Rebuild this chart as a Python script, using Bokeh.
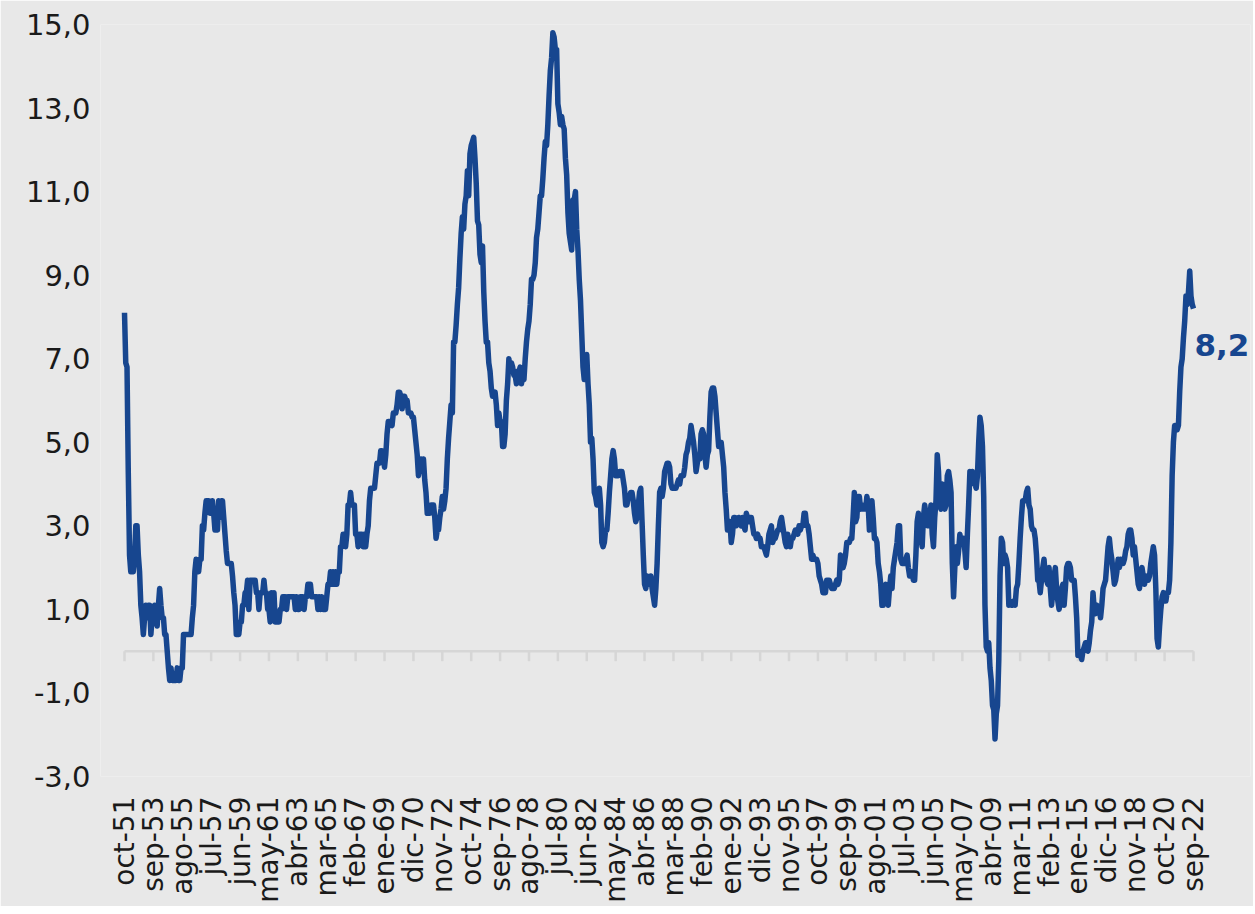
import math
from bokeh.plotting import figure
from bokeh.models import Range1d, FixedTicker, ColumnDataSource
from bokeh.core.properties import value
from bokeh.embed import file_html
from bokeh.resources import INLINE

# ---------------- data ----------------
month_names = ["ene", "feb", "mar", "abr", "may", "jun", "jul", "ago", "sep", "oct", "nov", "dic"]
start_year, start_month = 1951, 9  # oct-51 (0-based month index)

# Year-on-year inflation (%), monthly, oct-1951 .. sep-2022
v1950s = [8.1, 6.9, 6.8,
          4.3, 2.3, 1.9, 2.3, 1.9, 2.3, 3.0, 3.0, 2.3, 1.9, 1.1, 0.8,
          0.4, 0.8, 1.1, 0.8, 1.1, 1.1, 0.4, 0.8, 0.8, 1.1, 0.8, 0.6,
          1.1, 1.5, 1.1, 0.8, 0.8, 0.4, 0.4, 0.0, -0.4, -0.7, -0.4, -0.7,
          -0.7, -0.7, -0.7, -0.4, -0.7, -0.7, -0.4, -0.4, 0.4, 0.4, 0.4, 0.4,
          0.4, 0.4, 0.4, 0.8, 1.1, 1.9, 2.2, 1.9, 1.9, 2.2, 2.2, 3.0,
          2.9, 3.3, 3.6, 3.6, 3.6, 3.3, 3.3, 3.6, 3.3, 2.9, 3.3, 2.9,
          3.6, 3.2, 3.6, 3.6, 3.2, 2.8, 2.4, 2.1, 2.1, 2.1, 2.1, 1.8,
          1.4, 1.1, 0.4, 0.4, 0.4, 0.7, 0.7, 1.1, 1.1, 1.4, 1.4, 1.7]
v1960s = [1.0, 1.7, 1.7, 1.7, 1.7, 1.7, 1.4, 1.4, 1.0, 1.4, 1.4, 1.4,
          1.7, 1.4, 1.4, 1.0, 1.0, 0.7, 1.4, 1.0, 1.4, 0.7, 0.7, 0.7,
          0.7, 1.0, 1.0, 1.3, 1.3, 1.3, 1.0, 1.3, 1.3, 1.3, 1.3, 1.3,
          1.3, 1.0, 1.3, 1.0, 1.0, 1.3, 1.3, 1.3, 1.0, 1.3, 1.3, 1.6,
          1.6, 1.6, 1.3, 1.3, 1.3, 1.3, 1.3, 1.0, 1.3, 1.0, 1.3, 1.0,
          1.0, 1.0, 1.3, 1.6, 1.6, 1.9, 1.6, 1.9, 1.6, 1.9, 1.6, 1.9,
          1.9, 2.5, 2.5, 2.8, 2.8, 2.5, 2.8, 3.5, 3.5, 3.8, 3.5, 3.5,
          3.5, 2.8, 2.8, 2.5, 2.8, 2.8, 2.8, 2.5, 2.8, 2.5, 2.8, 3.0,
          3.6, 3.9, 3.9, 3.9, 3.9, 4.2, 4.5, 4.5, 4.5, 4.8, 4.8, 4.7,
          4.4, 4.7, 5.2, 5.5, 5.5, 5.5, 5.4, 5.7, 5.7, 5.7, 5.9, 6.2]
v1970s = [6.2, 6.1, 5.8, 6.1, 6.1, 6.0, 6.0, 5.7, 5.7, 5.7, 5.6, 5.6,
          5.3, 5.0, 4.7, 4.2, 4.4, 4.6, 4.4, 4.6, 4.1, 3.8, 3.3, 3.3,
          3.3, 3.5, 3.5, 3.5, 3.2, 2.7, 2.9, 2.9, 3.2, 3.4, 3.7, 3.4,
          3.6, 3.9, 4.6, 5.1, 5.5, 5.9, 5.7, 7.4, 7.4, 7.8, 8.3, 8.7,
          9.4, 10.0, 10.4, 10.1, 10.7, 10.9, 11.5, 10.9, 11.9, 12.1, 12.2, 12.3,
          11.8, 11.2, 10.3, 10.2, 9.5, 9.3, 9.7, 8.6, 7.9, 7.4, 7.4, 6.9,
          6.7, 6.3, 6.1, 6.1, 6.2, 5.9, 5.4, 5.7, 5.5, 5.5, 4.9, 4.9,
          5.2, 6.0, 6.4, 7.0, 6.7, 6.9, 6.8, 6.6, 6.6, 6.4, 6.7, 6.7,
          6.8, 6.4, 6.6, 6.5, 7.0, 7.4, 7.7, 7.9, 8.3, 8.9, 8.9, 9.0,
          9.3, 9.9, 10.1, 10.5, 10.9, 10.9, 11.3, 11.8, 12.2, 12.1, 12.6, 13.3]
v1980s = [13.9, 14.2, 14.8, 14.7, 14.4, 14.4, 13.1, 12.9, 12.6, 12.8, 12.6, 12.5,
          11.8, 11.4, 10.5, 10.0, 9.8, 9.6, 10.8, 10.8, 11.0, 10.1, 9.6, 8.9,
          8.4, 7.6, 6.8, 6.5, 6.7, 7.1, 6.4, 5.9, 5.0, 5.1, 4.6, 3.8,
          3.7, 3.5, 3.6, 3.9, 3.5, 2.6, 2.5, 2.6, 2.9, 2.9, 3.3, 3.8,
          4.2, 4.6, 4.8, 4.6, 4.2, 4.2, 4.2, 4.3, 4.3, 4.3, 4.1, 3.9,
          3.5, 3.5, 3.7, 3.7, 3.8, 3.8, 3.6, 3.3, 3.1, 3.2, 3.5, 3.8,
          3.9, 3.1, 2.3, 1.6, 1.5, 1.8, 1.6, 1.6, 1.8, 1.5, 1.3, 1.1,
          1.5, 2.1, 3.0, 3.8, 3.9, 3.7, 3.9, 4.3, 4.4, 4.5, 4.5, 4.4,
          4.0, 3.9, 3.9, 3.9, 3.9, 4.0, 4.1, 4.0, 4.2, 4.2, 4.2, 4.4,
          4.7, 4.8, 5.0, 5.1, 5.4, 5.2, 5.0, 4.7, 4.3, 4.5, 4.7, 4.6]
v1990s = [5.2, 5.3, 5.2, 4.7, 4.4, 4.7, 4.8, 5.6, 6.2, 6.3, 6.3, 6.1,
          5.7, 5.3, 4.9, 4.9, 5.0, 4.7, 4.4, 3.8, 3.4, 2.9, 3.0, 3.1,
          2.6, 2.8, 3.2, 3.2, 3.0, 3.1, 3.2, 3.1, 3.0, 3.2, 3.0, 2.9,
          3.3, 3.2, 3.1, 3.2, 3.2, 3.0, 2.8, 2.8, 2.7, 2.8, 2.7, 2.7,
          2.5, 2.5, 2.5, 2.4, 2.3, 2.5, 2.8, 2.9, 3.0, 2.6, 2.7, 2.7,
          2.8, 2.9, 2.9, 3.1, 3.2, 3.0, 2.8, 2.6, 2.5, 2.8, 2.6, 2.5,
          2.7, 2.7, 2.8, 2.9, 2.9, 2.8, 3.0, 2.9, 3.0, 3.0, 3.3, 3.3,
          3.0, 3.0, 2.8, 2.5, 2.2, 2.3, 2.2, 2.2, 2.2, 2.1, 1.8, 1.7,
          1.6, 1.4, 1.4, 1.4, 1.7, 1.7, 1.7, 1.6, 1.5, 1.5, 1.5, 1.6,
          1.7, 1.6, 1.7, 2.3, 2.1, 2.0, 2.1, 2.3, 2.6, 2.6, 2.6, 2.7]
v2000s = [2.7, 3.2, 3.8, 3.1, 3.2, 3.7, 3.7, 3.4, 3.5, 3.4, 3.4, 3.4,
          3.7, 3.5, 2.9, 3.3, 3.6, 3.2, 2.7, 2.7, 2.6, 2.1, 1.9, 1.6,
          1.1, 1.1, 1.5, 1.6, 1.2, 1.1, 1.5, 1.8, 1.5, 2.0, 2.2, 2.4,
          2.6, 3.0, 3.0, 2.2, 2.1, 2.1, 2.1, 2.2, 2.3, 2.0, 1.8, 1.9,
          1.9, 1.7, 1.7, 2.3, 3.1, 3.3, 3.0, 2.7, 2.5, 3.2, 3.5, 3.3,
          3.0, 3.0, 3.1, 3.5, 2.8, 2.5, 3.2, 3.6, 4.7, 4.3, 3.5, 3.4,
          4.0, 3.6, 3.4, 3.5, 4.2, 4.3, 4.1, 3.8, 2.1, 1.3, 2.0, 2.5,
          2.1, 2.4, 2.8, 2.6, 2.7, 2.7, 2.4, 2.0, 2.8, 3.5, 4.3, 4.1,
          4.3, 4.0, 4.0, 3.9, 4.2, 5.0, 5.6, 5.4, 4.9, 3.7, 1.1, 0.1,
          0.0, 0.2, -0.4, -0.7, -1.3, -1.4, -2.1, -1.5, -1.3, -0.2, 1.8, 2.7]
v2010s = [2.6, 2.1, 2.3, 2.2, 2.0, 1.1, 1.2, 1.1, 1.1, 1.2, 1.1, 1.5,
          1.6, 2.1, 2.7, 3.2, 3.6, 3.6, 3.6, 3.8, 3.9, 3.5, 3.4, 3.0,
          2.9, 2.9, 2.7, 2.3, 1.7, 1.7, 1.4, 1.7, 2.0, 2.2, 1.8, 1.7,
          1.6, 2.0, 1.5, 1.1, 1.4, 1.8, 2.0, 1.5, 1.2, 1.0, 1.2, 1.5,
          1.6, 1.1, 1.5, 2.0, 2.1, 2.1, 2.0, 1.7, 1.7, 1.7, 1.3, 0.8,
          -0.1, 0.0, -0.1, -0.2, 0.0, 0.1, 0.2, 0.2, 0.0, 0.2, 0.5, 0.7,
          1.4, 1.0, 0.9, 1.1, 1.0, 1.0, 0.8, 1.1, 1.5, 1.6, 1.7, 2.1,
          2.5, 2.7, 2.4, 2.2, 1.9, 1.6, 1.7, 1.9, 2.2, 2.0, 2.2, 2.1,
          2.1, 2.2, 2.4, 2.5, 2.8, 2.9, 2.9, 2.7, 2.3, 2.5, 2.2, 1.9,
          1.6, 1.5, 1.9, 2.0, 1.8, 1.6, 1.8, 1.7, 1.7, 1.8, 2.1, 2.3]
v2020s = [2.5, 2.3, 1.5, 0.3, 0.1, 0.6, 1.0, 1.3, 1.4, 1.2, 1.2, 1.4,
          1.4, 1.7, 2.6, 4.2, 5.0, 5.4, 5.4, 5.3, 5.4, 6.2, 6.8, 7.0,
          7.5, 7.9, 8.5, 8.3, 8.6, 9.1, 8.5, 8.3, 8.2]

x_tick_labels = ["oct-51", "sep-53", "ago-55", "jul-57", "jun-59", "may-61", "abr-63",
                 "mar-65", "feb-67", "ene-69", "dic-70", "nov-72", "oct-74", "sep-76",
                 "ago-78", "jul-80", "jun-82", "may-84", "abr-86", "mar-88", "feb-90",
                 "ene-92", "dic-93", "nov-95", "oct-97", "sep-99", "ago-01", "jul-03",
                 "jun-05", "may-07", "abr-09", "mar-11", "feb-13", "ene-15", "dic-16",
                 "nov-18", "oct-20", "sep-22"]
y_ticks = [-3, -1, 1, 3, 5, 7, 9, 11, 13, 15]

# ---------------- build ----------------
values = v1950s + v1960s + v1970s + v1980s + v1990s + v2000s + v2010s + v2020s
months = []
for i in range(len(values)):
    m = start_month + i
    months.append(f"{month_names[m % 12]}-{(start_year + m // 12) % 100:02d}")
idx = list(range(len(values)))
tick_pos = [months.index(t) for t in x_tick_labels]

BLUE = "#17468f"
BG = "#e8e8e8"
FONT = "DejaVu Sans"

# frame: page x 100..1250, first month at page x 124, last at 1193
px_per_month = (1193 - 124) / (len(values) - 1)
x_start = -(124 - 100) / px_per_month
x_end = (1250 - 124) / px_per_month

p = figure(width=1253, height=906, output_backend="svg", toolbar_location=None,
           x_range=Range1d(x_start, x_end), y_range=Range1d(y_ticks[0], y_ticks[-1]),
           min_border_left=100, min_border_right=3, min_border_top=24, min_border_bottom=130)
p.background_fill_color = BG
p.border_fill_color = BG
p.outline_line_color = None
p.xgrid.grid_line_color = None
p.ygrid.grid_line_color = None

# zero line with downward ticks
p.segment(x0=[tick_pos[0]], y0=[0], x1=[tick_pos[-1]], y1=[0], line_color="#d6d6d6", line_width=2.5)
p.ray(x=tick_pos, y=[0] * len(tick_pos), length=10, length_units="screen",
      angle=-math.pi / 2, line_color="#d6d6d6", line_width=2.5)

src = ColumnDataSource(dict(x=idx, y=values))
p.line("x", "y", source=src, line_color=BLUE, line_width=5.5, line_join="round")

last_label = f"{values[-1]:.1f}".replace(".", ",")
p.text(x=[idx[-1]], y=[values[-1]], text=[last_label], text_font=value(FONT),
       text_font_style="bold", text_font_size="31px", text_color=BLUE,
       text_align="left", text_baseline="middle", x_offset=1, y_offset=36)

# y axis
p.yaxis.ticker = FixedTicker(ticks=y_ticks)
p.yaxis.major_label_overrides = {t: f"{t:.1f}".replace(".", ",") for t in y_ticks}
p.yaxis.axis_line_color = None
p.yaxis.major_tick_line_color = None
p.yaxis.minor_tick_line_color = None
p.yaxis.major_tick_out = 0
p.yaxis.major_tick_in = 0
p.yaxis.major_label_standoff = 10
p.yaxis.major_label_text_font = FONT
p.yaxis.major_label_text_font_size = "29px"
p.yaxis.major_label_text_color = "#1a1a1a"

# x axis (labels at bottom)
p.xaxis.ticker = FixedTicker(ticks=tick_pos)
p.xaxis.major_label_overrides = {pos: lab for pos, lab in zip(tick_pos, x_tick_labels)}
p.xaxis.major_label_orientation = math.pi / 2
p.xaxis.axis_line_color = None
p.xaxis.major_tick_line_color = None
p.xaxis.minor_tick_line_color = None
p.xaxis.major_tick_out = 0
p.xaxis.major_tick_in = 0
p.xaxis.major_label_standoff = 20
p.xaxis.major_label_text_font = FONT
p.xaxis.major_label_text_font_size = "28px"
p.xaxis.major_label_text_color = "#1a1a1a"

html = file_html(p, INLINE)
html = html.replace("<body>", f'<body style="background:{BG};">', 1)
open("out.html", "w").write(html)
